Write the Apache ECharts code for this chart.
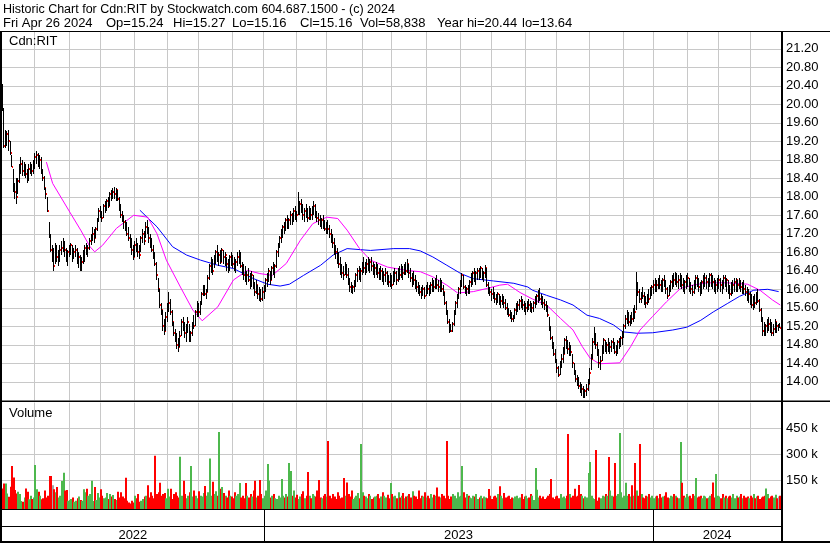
<!DOCTYPE html>
<html><head><meta charset="utf-8">
<script src="https://cdn.jsdelivr.net/npm/echarts@6/dist/echarts.min.js"></script>
<style>html,body{margin:0;padding:0;background:#fff}#c{width:830px;height:543px}</style>
</head><body><div id="c"></div>
<script>
// ---- trading calendar (TSX) ----
const startDate = '2022-05-02', endDate = '2024-04-26';
const holidays = ['2022-05-23','2022-07-01','2022-08-01','2022-09-05','2022-10-10','2022-12-26','2022-12-27',
  '2023-01-02','2023-02-20','2023-04-07','2023-05-22','2023-07-03','2023-08-07','2023-09-04','2023-10-09','2023-12-25','2023-12-26',
  '2024-01-01','2024-02-19','2024-03-29'];
const yearLabels = ['2022','2023','2024'];

// ---- daily bars: high / low / close ----
const hi = [
20.44,19.91,19.45,19.42,19.45,19.20,18.90,18.60,18.30,18.40,
18.40,18.70,18.85,18.80,18.75,18.70,18.60,18.70,18.75,18.70,
18.80,18.95,18.98,18.95,18.90,18.85,18.60,18.45,18.20,18.00,
17.45,17.20,16.95,16.90,17.00,16.95,16.85,16.95,17.05,17.10,
17.05,16.90,16.85,16.95,17.00,16.95,16.90,16.95,16.90,16.80,
16.75,16.70,16.85,16.95,17.00,16.95,17.10,17.20,17.35,17.30,
17.35,17.55,17.75,17.80,17.70,17.85,17.90,17.95,18.00,18.10,
18.15,18.20,18.22,18.20,18.15,18.00,17.85,17.70,17.60,17.50,
17.45,17.35,17.20,17.10,16.95,17.05,17.10,17.00,16.95,17.15,
17.30,17.25,17.45,17.49,17.35,17.20,17.10,16.95,16.80,16.60,
16.25,16.00,15.70,15.55,15.35,15.50,15.70,15.95,15.80,15.55,
15.30,15.15,15.05,14.95,15.10,15.35,15.40,15.30,15.25,15.40,
15.25,15.10,15.30,15.45,15.55,15.75,15.70,15.75,15.95,16.10,
16.10,16.00,16.30,16.55,16.70,16.65,16.75,16.85,16.95,16.80,
16.85,16.90,16.85,16.80,16.70,16.65,16.75,16.80,16.75,16.70,
16.65,16.80,16.85,16.80,16.60,16.55,16.50,16.40,16.45,16.35,
16.40,16.30,16.15,16.20,16.10,16.05,16.00,16.05,16.10,16.25,
16.35,16.45,16.40,16.50,16.60,16.55,16.85,17.00,17.15,17.30,
17.40,17.45,17.55,17.60,17.55,17.70,17.65,17.75,17.80,17.70,
18.10,17.90,17.95,17.85,17.75,17.85,17.75,17.80,17.75,17.80,
17.90,17.85,17.70,17.65,17.60,17.55,17.60,17.50,17.45,17.50,
17.40,17.30,17.20,17.10,16.95,16.90,16.80,16.70,16.55,16.50,
16.60,16.55,16.45,16.25,16.15,16.10,16.20,16.35,16.45,16.50,
16.45,16.60,16.70,16.60,16.65,16.70,16.65,16.70,16.60,16.55,
16.60,16.55,16.45,16.50,16.45,16.40,16.45,16.40,16.30,16.35,
16.30,16.40,16.45,16.40,16.45,16.50,16.55,16.50,16.55,16.60,
16.65,16.55,16.45,16.35,16.40,16.30,16.20,16.15,16.10,16.05,
16.10,16.05,16.10,16.15,16.10,16.15,16.25,16.20,16.25,16.30,
16.20,16.25,16.20,16.10,15.95,15.75,15.55,15.35,15.25,15.30,
15.55,15.75,15.90,16.05,16.20,16.35,16.30,16.10,16.05,16.10,
16.20,16.35,16.40,16.45,16.40,16.45,16.45,16.50,16.45,16.40,
16.52,16.45,16.15,16.05,16.00,16.05,15.95,15.90,15.95,15.90,
15.85,15.90,15.85,15.80,15.70,15.60,15.55,15.50,15.45,15.60,
15.70,15.75,15.80,15.85,15.80,15.75,15.70,15.75,15.80,15.75,
15.70,15.75,15.85,15.90,15.98,16.02,15.90,15.85,15.80,15.75,
15.65,15.40,15.20,15.00,14.85,14.70,14.50,14.35,14.45,14.60,
14.75,14.95,14.98,14.90,14.85,14.80,14.60,14.40,14.25,14.15,
14.10,14.00,13.95,13.90,13.85,13.95,14.05,14.30,14.60,14.95,
15.18,15.05,14.85,14.70,14.55,14.80,14.95,14.90,14.85,14.95,
14.85,14.90,14.95,14.85,14.80,14.90,14.95,15.00,15.10,15.25,
15.45,15.55,15.50,15.45,15.50,15.60,15.65,16.37,16.15,16.00,
15.95,16.05,15.95,15.85,15.90,16.00,16.05,16.10,16.20,16.25,
16.20,16.25,16.30,16.20,16.25,16.30,16.20,16.05,16.10,16.20,
16.30,16.35,16.37,16.35,16.30,16.35,16.30,16.25,16.20,16.30,
16.35,16.25,16.15,16.10,16.20,16.30,16.30,16.25,16.15,16.20,
16.30,16.35,16.30,16.25,16.35,16.35,16.30,16.25,16.20,16.25,
16.30,16.25,16.20,16.30,16.30,16.25,16.20,16.10,16.15,16.20,
16.25,16.25,16.20,16.25,16.20,16.15,16.20,16.10,16.05,16.00,
15.95,15.90,15.85,15.90,15.95,16.00,15.80,15.60,15.40,15.30,
15.25,15.35,15.40,15.35,15.30,15.25,15.35,15.30,15.25,15.27];
const lo = [
19.85,19.05,19.05,19.10,19.00,18.90,18.64,18.10,17.95,17.85,
18.05,18.30,18.50,18.45,18.45,18.40,18.30,18.35,18.50,18.45,
18.50,18.60,18.70,18.65,18.60,18.50,18.35,18.15,17.95,17.68,
17.10,16.80,16.60,16.40,16.55,16.60,16.50,16.60,16.75,16.80,
16.70,16.60,16.50,16.70,16.75,16.60,16.65,16.70,16.55,16.45,
16.40,16.40,16.55,16.60,16.75,16.70,16.85,16.95,17.05,17.00,
17.10,17.25,17.45,17.55,17.45,17.55,17.65,17.70,17.75,17.80,
17.90,17.95,17.95,17.90,17.90,17.70,17.55,17.45,17.30,17.25,
17.15,17.05,16.90,16.75,16.63,16.70,16.80,16.70,16.65,16.80,
17.00,16.95,17.10,17.20,17.00,16.90,16.80,16.65,16.50,16.20,
15.95,15.60,15.45,15.10,15.02,15.10,15.30,15.50,15.45,15.20,
15.00,14.85,14.70,14.65,14.75,15.00,15.10,14.95,14.85,15.05,
14.85,14.85,15.00,15.15,15.20,15.40,15.40,15.45,15.65,15.85,
15.85,15.80,15.95,16.20,16.35,16.30,16.45,16.55,16.60,16.50,
16.55,16.60,16.55,16.50,16.40,16.35,16.40,16.50,16.45,16.40,
16.35,16.50,16.55,16.45,16.30,16.20,16.15,16.10,16.15,16.00,
16.05,16.00,15.85,15.90,15.80,15.75,15.73,15.75,15.80,15.95,
16.05,16.15,16.10,16.20,16.30,16.25,16.45,16.70,16.90,17.00,
17.10,17.20,17.25,17.30,17.30,17.40,17.40,17.45,17.50,17.45,
17.60,17.60,17.65,17.50,17.45,17.55,17.45,17.50,17.50,17.50,
17.60,17.55,17.45,17.40,17.35,17.30,17.30,17.25,17.20,17.20,
17.10,17.00,16.90,16.75,16.65,16.55,16.45,16.30,16.25,16.20,
16.30,16.25,16.10,15.95,15.92,15.90,15.95,16.05,16.15,16.20,
16.15,16.30,16.35,16.30,16.35,16.40,16.35,16.40,16.30,16.25,
16.30,16.25,16.20,16.20,16.15,16.10,16.15,16.10,16.05,16.05,
16.00,16.10,16.15,16.10,16.15,16.20,16.25,16.20,16.30,16.30,
16.35,16.25,16.15,16.05,16.10,16.00,15.95,15.90,15.85,15.80,
15.85,15.80,15.85,15.90,15.85,15.90,15.95,15.95,16.00,16.00,
15.95,15.95,15.95,15.85,15.65,15.45,15.25,15.05,15.08,15.08,
15.20,15.45,15.60,15.80,15.90,16.05,16.00,15.90,15.85,15.90,
15.90,16.05,16.10,16.15,16.10,16.20,16.20,16.25,16.20,16.15,
16.25,16.05,15.90,15.85,15.75,15.80,15.70,15.65,15.70,15.65,
15.60,15.65,15.60,15.55,15.45,15.40,15.35,15.30,15.30,15.35,
15.45,15.50,15.55,15.60,15.55,15.50,15.45,15.50,15.55,15.50,
15.48,15.50,15.60,15.65,15.70,15.75,15.65,15.60,15.55,15.50,
15.40,15.10,14.90,14.70,14.55,14.40,14.20,14.10,14.15,14.30,
14.40,14.60,14.70,14.60,14.55,14.55,14.30,14.15,14.00,13.90,
13.85,13.75,13.70,13.64,13.65,13.70,13.80,13.95,14.25,14.50,
14.80,14.70,14.55,14.30,14.25,14.45,14.60,14.65,14.60,14.65,
14.60,14.65,14.70,14.60,14.55,14.60,14.70,14.75,14.80,14.95,
15.15,15.25,15.20,15.20,15.25,15.30,15.35,15.55,15.85,15.70,
15.70,15.80,15.65,15.60,15.65,15.70,15.80,15.85,15.90,15.95,
15.95,16.00,16.00,15.95,15.95,16.05,15.90,15.80,15.85,15.95,
16.00,16.05,16.10,16.05,16.00,16.05,16.00,15.95,15.90,16.00,
16.05,15.95,15.90,15.85,15.90,16.00,16.05,15.95,15.85,15.90,
16.00,16.05,16.00,15.95,16.05,16.05,16.00,15.95,15.90,15.95,
16.00,15.95,15.90,16.00,16.05,15.95,15.90,15.80,15.85,15.90,
15.95,15.95,15.95,16.00,15.95,15.90,15.90,15.85,15.75,15.70,
15.65,15.60,15.55,15.60,15.65,15.70,15.50,15.30,15.00,14.98,
15.00,15.05,15.10,15.05,15.00,14.98,15.05,15.05,15.10,15.16];
const cl = [
19.90,19.10,19.30,19.35,19.20,18.95,18.65,18.20,18.10,18.00,
18.35,18.60,18.70,18.55,18.65,18.50,18.40,18.60,18.65,18.55,
18.75,18.85,18.90,18.75,18.80,18.55,18.40,18.20,18.05,17.70,
17.15,16.85,16.85,16.50,16.80,16.70,16.75,16.85,16.90,17.00,
16.85,16.70,16.80,16.85,16.95,16.75,16.80,16.85,16.65,16.70,
16.50,16.60,16.70,16.90,16.80,16.90,17.05,17.10,17.20,17.10,
17.30,17.50,17.70,17.60,17.55,17.80,17.85,17.90,17.80,18.05,
18.00,18.10,18.05,18.15,17.95,17.80,17.60,17.50,17.45,17.30,
17.20,17.10,17.00,16.85,16.70,16.95,16.90,16.80,16.75,17.10,
17.20,17.05,17.35,17.30,17.10,17.00,16.85,16.70,16.55,16.30,
16.00,15.65,15.55,15.20,15.10,15.40,15.60,15.70,15.50,15.30,
15.05,14.95,14.80,14.75,15.00,15.30,15.20,15.05,15.15,15.30,
15.00,15.05,15.25,15.20,15.50,15.65,15.50,15.70,15.90,16.05,
15.90,15.95,16.25,16.50,16.60,16.40,16.70,16.80,16.65,16.75,
16.60,16.85,16.70,16.75,16.55,16.45,16.70,16.60,16.55,16.50,
16.60,16.70,16.75,16.50,16.40,16.30,16.25,16.30,16.20,16.10,
16.30,16.05,15.95,16.10,15.90,15.85,15.80,15.95,16.05,16.20,
16.25,16.40,16.20,16.45,16.35,16.50,16.80,16.95,17.10,17.20,
17.35,17.30,17.50,17.40,17.50,17.60,17.50,17.70,17.65,17.60,
17.70,17.85,17.80,17.60,17.70,17.65,17.55,17.70,17.60,17.70,
17.80,17.60,17.55,17.50,17.45,17.50,17.40,17.30,17.35,17.30,
17.20,17.10,17.00,16.85,16.80,16.60,16.55,16.40,16.35,16.30,
16.50,16.30,16.20,16.05,16.00,16.05,16.15,16.30,16.40,16.30,
16.40,16.50,16.45,16.50,16.55,16.45,16.60,16.50,16.40,16.45,
16.50,16.35,16.30,16.40,16.25,16.30,16.35,16.20,16.15,16.25,
16.10,16.30,16.35,16.20,16.40,16.30,16.45,16.35,16.50,16.40,
16.55,16.35,16.25,16.30,16.20,16.10,16.05,16.00,15.95,15.90,
16.00,15.85,16.05,16.00,15.95,16.10,16.15,16.05,16.20,16.10,
16.05,16.15,16.00,15.95,15.70,15.50,15.30,15.15,15.10,15.25,
15.50,15.70,15.85,16.00,16.10,16.30,16.05,15.95,16.00,15.95,
16.15,16.30,16.35,16.30,16.35,16.40,16.35,16.45,16.30,16.35,
16.45,16.10,16.00,15.95,15.90,15.85,15.80,15.75,15.90,15.70,
15.75,15.80,15.70,15.60,15.50,15.45,15.40,15.35,15.40,15.55,
15.60,15.65,15.75,15.70,15.65,15.55,15.60,15.70,15.65,15.55,
15.60,15.70,15.80,15.85,15.90,15.80,15.75,15.70,15.65,15.60,
15.45,15.15,14.95,14.75,14.60,14.45,14.30,14.15,14.35,14.50,
14.60,14.90,14.85,14.70,14.75,14.65,14.40,14.20,14.05,14.00,
13.90,13.80,13.85,13.75,13.80,13.85,13.95,14.20,14.50,14.85,
15.00,14.80,14.60,14.40,14.45,14.70,14.90,14.75,14.80,14.70,
14.75,14.85,14.80,14.65,14.70,14.85,14.90,14.95,15.05,15.20,
15.35,15.45,15.30,15.40,15.35,15.55,15.50,16.10,15.95,15.80,
15.90,15.85,15.75,15.70,15.85,15.80,15.95,16.05,16.10,16.15,
16.10,16.20,16.10,16.05,16.20,16.15,16.00,15.85,16.05,16.15,
16.25,16.20,16.30,16.15,16.20,16.25,16.10,16.00,16.15,16.20,
16.25,16.05,16.00,15.95,16.15,16.25,16.20,16.05,15.95,16.15,
16.20,16.25,16.15,16.20,16.30,16.20,16.15,16.05,16.10,16.15,
16.20,16.10,16.05,16.25,16.15,16.20,16.00,15.90,16.05,16.10,
16.15,16.20,16.10,16.15,16.05,16.10,16.00,15.95,15.85,15.90,
15.70,15.65,15.75,15.70,15.85,15.75,15.55,15.35,15.10,15.05,
15.20,15.30,15.25,15.15,15.05,15.15,15.30,15.20,15.20,15.16];

// ---- daily volume (thousands of shares) ----
const volK = [
102,131,131,73,54,112,232,166,93,73, 83,70,29,25,50,102,83,39,60,40,
50,238,97,83,60,39,45,90,50,60, 174,174,120,97,80,110,50,60,145,193,
90,93,30,35,40,50,25,30,45,55, 35,30,97,80,100,60,70,147,29,110,
35,75,50,97,60,45,50,75,40,70, 55,64,40,35,83,50,80,55,45,164,
30,20,15,30,20,60,45,70,25,30, 40,55,60,120,50,80,60,45,292,70,
80,135,60,70,75,45,100,55,100,40, 70,80,60,50,286,60,147,70,45,60,
80,232,55,90,60,45,85,60,55,75, 116,60,80,275,60,141,70,85,60,429,
100,110,75,60,50,90,60,55,45,80, 60,70,133,50,60,45,133,60,50,70,
55,90,147,50,60,151,70,45,60,90, 244,147,50,60,70,45,40,60,50,157,
60,50,70,55,250,203,60,90,50,65, 40,55,70,85,45,60,197,60,45,70,
60,55,90,151,50,45,60,70,55,377, 60,45,70,55,40,80,60,45,50,162,
60,137,70,55,90,40,50,60,75,45, 360,80,60,55,45,70,60,40,50,55,
60,70,45,55,80,60,50,65,45,133, 70,55,60,45,80,50,60,75,45,55,
60,70,50,85,60,55,40,90,45,60, 55,80,50,60,45,70,50,65,60,108,
55,50,70,60,45,377,60,40,55,70, 60,45,80,55,60,232,80,50,70,60,
50,45,60,55,70,40,50,60,45,55, 50,45,99,60,40,55,60,50,70,114,
60,45,75,50,55,60,40,50,45,55, 60,45,50,70,40,55,60,45,50,70,
60,35,220,95,50,60,45,55,40,50, 60,70,157,50,40,55,60,45,70,50,
55,45,60,418,70,50,60,100,55,60, 122,70,60,45,55,50,191,255,60,45,
40,325,30,50,45,60,55,70,60,284, 90,60,55,250,60,70,424,80,50,60,
135,60,70,55,120,60,250,90,60,360, 70,50,45,60,55,70,50,60,45,55,
60,45,70,50,55,60,80,50,45,60, 55,70,60,50,45,371,135,60,50,70,
55,60,45,70,60,162,50,55,60,45, 60,55,45,50,60,70,137,50,186,60,
55,45,70,50,60,45,55,60,50,70, 45,60,50,55,70,45,60,50,55,45,
60,50,70,45,55,60,40,50,55,60, 102,70,45,55,60,50,65,45,55,59];

// ---- moving averages (bar index, price) ----
const pinkIdx = [28,32,43,50,56,59,64,73,84,93,99,105,114,122,128,138,148,157,165,173,182,191,199,208,215,221,229,236,247,259,268,276,285,292,302,311,319,324,332,340,349,358,366,372,377,383,396,403,409,417,426,435,443,452,465,478,486,494,499];
const pinkVal = [18.75,18.29,17.67,17.28,16.92,16.81,16.95,17.32,17.60,17.56,17.20,16.63,16.05,15.55,15.32,15.62,16.20,16.41,16.34,16.30,16.56,17.06,17.42,17.56,17.53,17.28,16.88,16.63,16.48,16.41,16.38,16.27,16.09,15.92,15.95,16.02,16.09,16.11,15.93,15.79,15.66,15.37,15.12,14.76,14.51,14.39,14.41,14.76,15.12,15.41,15.73,16.02,16.09,16.14,16.14,16.11,15.98,15.77,15.66];
const blueIdx = [88,99,109,118,127,138,148,161,170,178,184,193,204,212,221,236,251,261,268,276,285,294,302,315,328,337,340,349,358,366,375,383,392,398,407,417,430,439,448,456,465,473,482,491,498];
const blueVal = [17.71,17.35,16.92,16.74,16.63,16.52,16.45,16.23,16.11,16.07,16.11,16.30,16.52,16.74,16.88,16.84,16.88,16.88,16.83,16.70,16.52,16.34,16.23,16.18,16.13,16.05,15.98,15.87,15.77,15.66,15.44,15.37,15.23,15.08,15.05,15.06,15.12,15.18,15.33,15.51,15.69,15.85,15.98,16.00,15.95];

const priceTicks = {min: 13.6, step: 0.4};
const volTicks = {max: 600000, step: 150000};

// ---- build ----
function tradingDays() {
  const out = [];
  let t = Date.parse(startDate + 'T00:00:00Z');
  const e = Date.parse(endDate + 'T00:00:00Z');
  while (t <= e) {
    const d = new Date(t), wd = d.getUTCDay(), s = d.toISOString().slice(0, 10);
    if (wd !== 0 && wd !== 6 && holidays.indexOf(s) < 0) out.push(s);
    t += 86400000;
  }
  return out;
}
const dates = tradingDays();
const monthStart = (i) => i > 0 && dates[i].slice(5, 7) !== dates[i - 1].slice(5, 7);
const yearSpans = yearLabels.map(y => {
  const a = dates.findIndex(d => d.slice(0, 4) === y);
  let b = a; while (b + 1 < dates.length && dates[b + 1].slice(0, 4) === y) b++;
  return [a, b];
});

const FONT = 'Arial, "Liberation Sans", sans-serif';
const GRIDC = '#c8c8c8';
const RED = '#ff0000', GREEN = '#4db84d', GRAY = '#a6a6a6';

const ohlcData = hi.map((h, i) => [i, h, lo[i], cl[i]]);
const volData = volK.map((v, i) => [i, v * 1000, i === 0 ? 1 : (cl[i] > cl[i - 1] ? 2 : (cl[i] < cl[i - 1] ? 1 : 0))]);

const chart = echarts.init(document.getElementById('c'), null, {renderer: 'canvas'});
const xBase = {type: 'category', data: dates, boundaryGap: true,
  axisLine: {show: false}, axisTick: {show: false}, axisLabel: {show: false}};

chart.setOption({
  animation: false,
  backgroundColor: '#fff',
  grid: [
    {left: 2, width: 779, top: 31, height: 369.3},
    {left: 2, width: 779, top: 402.6, height: 103.4},
    {left: 2, width: 779, top: 509, height: 34}
  ],
  xAxis: [
    Object.assign({gridIndex: 0, splitLine: {show: true, interval: (i) => monthStart(i), lineStyle: {color: GRIDC, width: 1}}}, xBase),
    Object.assign({gridIndex: 1, splitLine: {show: true, interval: (i) => monthStart(i), lineStyle: {color: GRIDC, width: 1}}}, xBase),
    Object.assign({gridIndex: 2, show: false}, xBase)
  ],
  yAxis: [
    {gridIndex: 0, type: 'value', position: 'right', min: priceTicks.min, max: 13.6 + 369.3 / 46.25, interval: priceTicks.step,
      axisLine: {show: false}, axisTick: {show: false},
      axisLabel: {show: true, showMinLabel: false, showMaxLabel: false, margin: 5, color: '#000', fontFamily: FONT, fontSize: 13,
        formatter: v => v.toFixed(2)},
      splitLine: {show: true, showMinLine: false, showMaxLine: false, lineStyle: {color: GRIDC, width: 1}}},
    {gridIndex: 1, type: 'value', position: 'right', min: 0, max: volTicks.max, interval: volTicks.step,
      axisLine: {show: false}, axisTick: {show: false},
      axisLabel: {show: true, showMinLabel: false, showMaxLabel: false, margin: 5, color: '#000', fontFamily: FONT, fontSize: 13,
        formatter: v => (v / 1000) + ' k'},
      splitLine: {show: true, showMinLine: false, showMaxLine: false, lineStyle: {color: GRIDC, width: 1}}},
    {gridIndex: 2, type: 'value', min: 0, max: 1, show: false}
  ],
  series: [
    {type: 'line', xAxisIndex: 0, yAxisIndex: 0, data: blueIdx.map((x, i) => [x, blueVal[i]]),
      symbol: 'none', lineStyle: {color: '#0000ff', width: 1}, z: 3},
    {type: 'line', xAxisIndex: 0, yAxisIndex: 0, data: pinkIdx.map((x, i) => [x, pinkVal[i]]),
      symbol: 'none', lineStyle: {color: '#ff00ff', width: 1}, z: 3},
    {type: 'custom', xAxisIndex: 0, yAxisIndex: 0, data: ohlcData, z: 4,
      encode: {x: 0, y: [1, 2, 3]},
      renderItem: (params, api) => {
        const i = api.value(0);
        const pH = api.coord([i, api.value(1)]);
        const pL = api.coord([i, api.value(2)]);
        const pC = api.coord([i, api.value(3)]);
        const x = Math.round(pH[0]);
        return {type: 'group', children: [
          {type: 'rect', shape: {x: x - 1, y: Math.round(pH[1]), width: 1, height: Math.max(1, Math.round(pL[1]) - Math.round(pH[1]))}, style: {fill: '#000'}},
          {type: 'rect', shape: {x: x, y: Math.round(pC[1]) - 1, width: 1, height: 2}, style: {fill: RED}}
        ]};
      }},
    {type: 'custom', xAxisIndex: 1, yAxisIndex: 1, data: volData, z: 4,
      encode: {x: 0, y: 1},
      renderItem: (params, api) => {
        const i = api.value(0);
        const p = api.coord([i, api.value(1)]);
        const cs = params.coordSys;
        const bottom = cs.y + cs.height + 3;
        const x0 = Math.round(p[0] - 1);
        const c = api.value(2);
        return {type: 'rect', shape: {x: x0, y: p[1], width: 2, height: bottom - p[1]},
          style: {fill: c === 1 ? RED : (c === 2 ? GREEN : GRAY)}};
      }},
    {type: 'custom', xAxisIndex: 2, yAxisIndex: 2, data: yearSpans, z: 5,
      renderItem: (params, api) => {
        const s = api.value(0), e = api.value(1);
        const bw = api.size([1, 0])[0];
        const xs = api.coord([s, 0])[0] - bw / 2, xe = api.coord([e, 0])[0] + bw / 2;
        const cs = params.coordSys;
        const kids = [{type: 'text', style: {text: yearLabels[params.dataIndex], x: (xs + xe) / 2, y: cs.y + 26.5,
          align: 'center', verticalAlign: 'middle', fill: '#000', font: '13px ' + FONT}}];
        if (s > 0) kids.push({type: 'rect', shape: {x: Math.round(xs), y: cs.y, width: 1, height: cs.height}, style: {fill: '#000'}});
        return {type: 'group', children: kids};
      }}
  ],
  graphic: [
    {type: 'rect', z: 100, shape: {x: 0, y: 31, width: 830, height: 1}, style: {fill: '#000'}},
    {type: 'rect', z: 100, shape: {x: 0, y: 31, width: 2, height: 512}, style: {fill: '#000'}},
    {type: 'rect', z: 100, shape: {x: 781, y: 31, width: 2, height: 512}, style: {fill: '#000'}},
    {type: 'rect', z: 100, shape: {x: 0, y: 400.5, width: 830, height: 1.5}, style: {fill: '#000'}},
    {type: 'rect', z: 100, shape: {x: 0, y: 509, width: 783, height: 1}, style: {fill: '#000'}},
    {type: 'rect', z: 100, shape: {x: 0, y: 526, width: 783, height: 1}, style: {fill: '#000'}},
    {type: 'rect', z: 100, shape: {x: 0, y: 541, width: 830, height: 2}, style: {fill: '#000'}},
    {type: 'text', z: 101, style: {text: 'Historic Chart for Cdn:RIT by Stockwatch.com 604.687.1500 - (c) 2024', x: 3, y: 9.5, verticalAlign: 'middle', fill: '#000', font: '12.5px ' + FONT}},
    {type: 'text', z: 101, style: {text: 'Fri Apr 26 2024', x: 3, y: 23.5, verticalAlign: 'middle', fill: '#000', font: '13px ' + FONT}},
    {type: 'text', z: 101, style: {text: 'Op=15.24', x: 106, y: 23.5, verticalAlign: 'middle', fill: '#000', font: '13px ' + FONT}},
    {type: 'text', z: 101, style: {text: 'Hi=15.27', x: 173, y: 23.5, verticalAlign: 'middle', fill: '#000', font: '13px ' + FONT}},
    {type: 'text', z: 101, style: {text: 'Lo=15.16', x: 232, y: 23.5, verticalAlign: 'middle', fill: '#000', font: '13px ' + FONT}},
    {type: 'text', z: 101, style: {text: 'Cl=15.16', x: 300, y: 23.5, verticalAlign: 'middle', fill: '#000', font: '13px ' + FONT}},
    {type: 'text', z: 101, style: {text: 'Vol=58,838', x: 360, y: 23.5, verticalAlign: 'middle', fill: '#000', font: '13px ' + FONT}},
    {type: 'text', z: 101, style: {text: 'Year hi=20.44', x: 437, y: 23.5, verticalAlign: 'middle', fill: '#000', font: '13px ' + FONT}},
    {type: 'text', z: 101, style: {text: 'lo=13.64', x: 522, y: 23.5, verticalAlign: 'middle', fill: '#000', font: '13px ' + FONT}},
    {type: 'text', z: 101, style: {text: 'Cdn:RIT', x: 9, y: 41.5, verticalAlign: 'middle', fill: '#000', font: '13px ' + FONT}},
    {type: 'text', z: 101, style: {text: 'Volume', x: 9, y: 413.8, verticalAlign: 'middle', fill: '#000', font: '13px ' + FONT}}
  ]
});
</script>
</body></html>
